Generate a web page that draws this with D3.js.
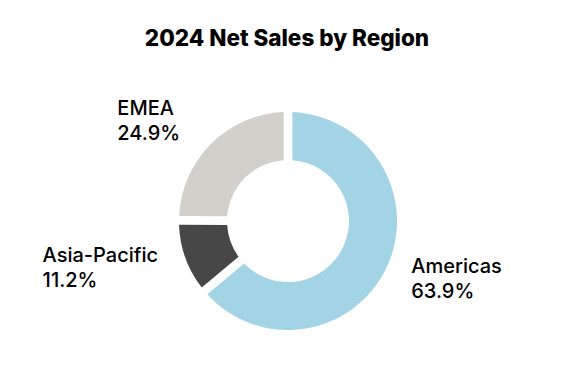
<!DOCTYPE html>
<html>
<head>
<meta charset="utf-8">
<script src="https://cdn.jsdelivr.net/npm/d3@7"></script>
<style>
  body { margin: 0; background: #fff; }
  svg { display: block; font-family: Inter, "Noto Sans", sans-serif; }
</style>
</head>
<body>
<svg id="chart" width="576" height="384"></svg>
<script>
// Chart data
const regions = ["Americas", "Asia-Pacific", "EMEA"];
const shares = [63.9, 11.2, 24.9];
const colors = ["#a3d4e6", "#474747", "#d1d0ca"];
const title = "2024 Net Sales by Region";

const width = 576;
const height = 384;
const cx = 288;
const cy = 221;
const outerR = 109;
const innerR = 61;
const labelR = 136;

// small manual tweak for label placement
const labelNudge = { EMEA: [-12, -4], "Asia-Pacific": [-2, 0] };

const svg = d3.select("#chart");

svg.append("text")
  .attr("x", 287)
  .attr("y", 46)
  .attr("text-anchor", "middle")
  .style("font-size", "22.5px")
  .style("font-weight", 800)
  .attr("fill", "#000")
  .text(title);

const data = regions.map((r, i) => ({ name: r, value: shares[i], color: colors[i] }));

const pie = d3.pie()
  .sort(null)
  .value((d) => d.value);

const arc = d3.arc()
  .innerRadius(innerR)
  .outerRadius(outerR)
  .padAngle(0.08)
  .padRadius(outerR);

const g = svg.append("g").attr("transform", `translate(${cx},${cy})`);

const arcs = pie(data);

g.selectAll("path")
  .data(arcs)
  .enter()
  .append("path")
  .attr("d", arc)
  .attr("fill", (d) => d.data.color);

// Labels
arcs.forEach((d) => {
  const mid = (d.startAngle + d.endAngle) / 2;
  const nudge = labelNudge[d.data.name] || [0, 0];
  const px = Math.sin(mid) * labelR + nudge[0];
  const py = -Math.cos(mid) * labelR + nudge[1];
  const t = g.append("text")
    .style("font-size", "20px")
    .style("font-weight", 500)
    .attr("fill", "#000");
  t.append("tspan").attr("x", 0).attr("dy", 0).text(d.data.name);
  t.append("tspan").attr("x", 0).attr("dy", 25).text(`${d3.format(".1f")(d.data.value)}%`);
  const bb = t.node().getBBox();
  const left = px < 0 ? px - bb.width : px;
  const top = py - bb.height / 2;
  t.attr("transform", `translate(${left},${top - bb.y})`);
});
</script>
</body>
</html>
